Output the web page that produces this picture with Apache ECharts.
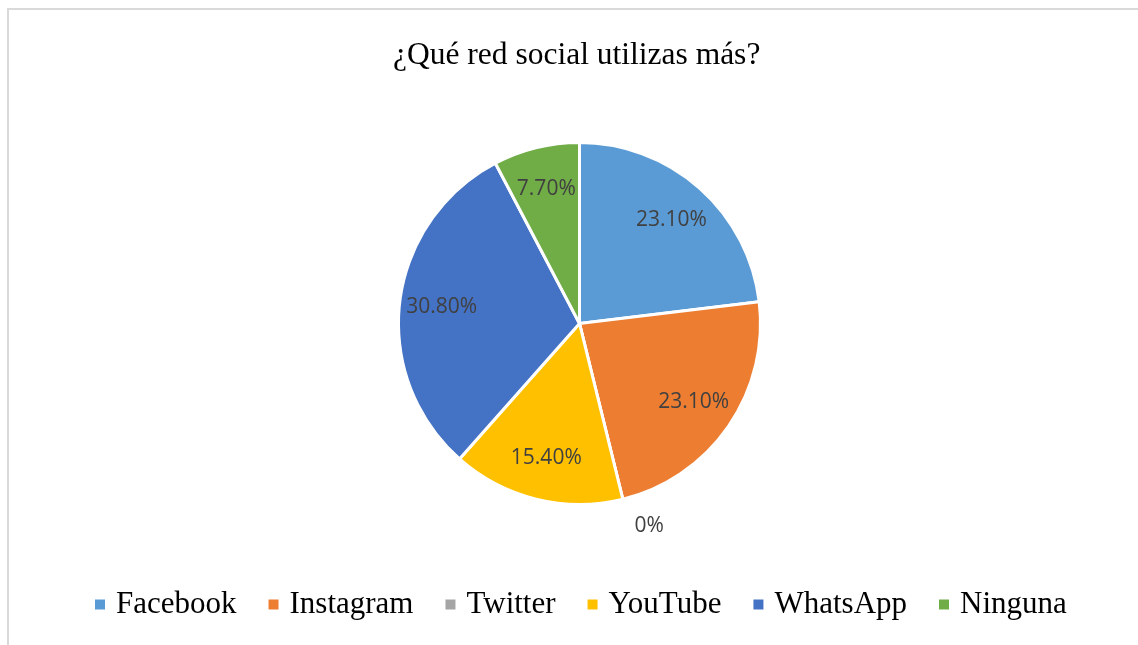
<!DOCTYPE html>
<html>
<head>
<meta charset="utf-8">
<script src="https://cdn.jsdelivr.net/npm/echarts@6/dist/echarts.min.js"></script>
<style>html,body{margin:0;padding:0;background:#fff}#c{width:1138px;height:645px}</style>
</head>
<body>
<div id="c"></div>
<script>
const titleText = '¿Qué red social utilizas más?';
const categories = ['Facebook', 'Instagram', 'Twitter', 'YouTube', 'WhatsApp', 'Ninguna'];
const values = [23.1, 23.1, 0, 15.4, 30.8, 7.7];
const colors = ['#5B9BD5', '#ED7D31', '#A5A5A5', '#FFC000', '#4472C4', '#70AD47'];

const R = 181;
const center = [579.5, 323.5];
const fmt = v => (v === 0 ? '0%' : v.toFixed(2) + '%');
const labelFont = { fontFamily: 'Open Sans', fontSize: 21, color: '#404040' };

const mainData = categories.map((n, i) => ({
  name: n, value: values[i],
  itemStyle: { color: colors[i] },
  label: values[i] === 0 ? { show: true, position: 'outside', formatter: p => fmt(p.value), ...labelFont } : { show: false },
  labelLine: { show: false, length: 28, length2: 0 }
}));
const ghostData = categories.map((n, i) => ({
  name: n, value: values[i],
  label: { show: values[i] !== 0 }
}));

const chart = echarts.init(document.getElementById('c'));
chart.setOption({
  animation: false,
  title: {
    text: titleText, left: 388, top: 35,
    textStyle: { fontFamily: 'Liberation Serif', fontSize: 31.5, fontWeight: 'normal', color: '#000' }
  },
  graphic: [{ type: 'rect', shape: { x: 8, y: 9, width: 1200, height: 700 }, style: { fill: 'none', stroke: '#d9d9d9', lineWidth: 2 }, silent: true }],
  legend: {
    data: categories, bottom: 20, left: 90, itemWidth: 10, itemHeight: 10, itemGap: 32,
    icon: 'rect',
    itemStyle: { borderWidth: 0 },
    textStyle: { fontFamily: 'Liberation Serif', fontSize: 31, color: '#000', padding: [0, 0, 0, 6] }
  },
  series: [
    {
      type: 'pie', center: center, radius: [0, R], startAngle: 90, clockwise: true,
      avoidLabelOverlap: false,
      itemStyle: { borderColor: '#fff', borderWidth: 3 },
      data: mainData
    },
    {
      type: 'pie', center: center, radius: [0, R * 1.5], startAngle: 90, clockwise: true,
      silent: true, avoidLabelOverlap: false,
      itemStyle: { color: 'transparent', borderWidth: 0 },
      label: { position: 'inside', formatter: p => fmt(p.value), ...labelFont },
      labelLine: { show: false },
      data: ghostData
    }
  ]
});
</script>
</body>
</html>
